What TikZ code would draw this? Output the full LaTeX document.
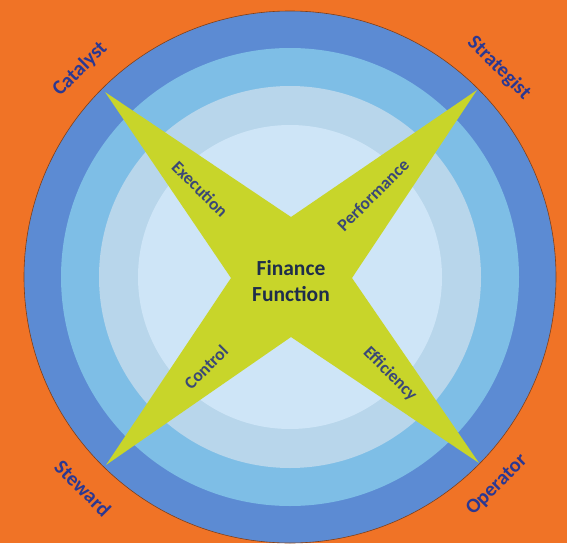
\documentclass[tikz,border=0pt]{standalone}
\usepackage{fontspec}
\setmainfont{Carlito}
\definecolor{bgorange}{RGB}{240,115,38}
\definecolor{ringA}{RGB}{92,139,211}
\definecolor{ringB}{RGB}{126,190,230}
\definecolor{ringC}{RGB}{184,214,235}
\definecolor{ringD}{RGB}{206,229,247}
\definecolor{starcol}{RGB}{200,213,42}
\definecolor{outertext}{RGB}{43,56,146}
\definecolor{startext}{RGB}{58,72,118}
\definecolor{centertext}{RGB}{30,45,75}
\tikzset{
  outerlabel/.style={font=\fontsize{20.5}{24}\selectfont\bfseries, text=outertext, inner sep=0pt},
  starlabel/.style={font=\fontsize{17.5}{20}\selectfont\bfseries, text=startext, inner sep=0pt},
  centerlabel/.style={font=\fontsize{21.5}{26}\selectfont\bfseries, text=centertext, align=center, inner sep=0pt},
}
\begin{document}
\begin{tikzpicture}[x=1pt,y=-1pt]
\useasboundingbox (0,0) rectangle (567,543);
\fill[bgorange] (0,0) rectangle (567,543);
\coordinate (c) at (290,277);
\fill[ringA] (c) circle[radius=266];
\draw[black!45!bgorange, line width=0.6pt] (c) circle[radius=266];
\fill[ringB] (c) circle[radius=229];
\fill[ringC] (c) circle[radius=191];
\fill[ringD] (c) circle[radius=152];
% star
\coordinate (tl) at (105,92);
\coordinate (nt) at (291,217);
\coordinate (tr) at (477,90);
\coordinate (nr) at (352,278);
\coordinate (br) at (479,463);
\coordinate (nb) at (291,337);
\coordinate (bl) at (106,465);
\coordinate (nl) at (231,278);
\fill[starcol] (tl) -- (nt) -- (tr) -- (nr) -- (br) -- (nb) -- (bl) -- (nl) -- cycle;
% center text
\node[centerlabel] (fin) at (291,281) {Finance\\Function};
% star labels
\node[starlabel, rotate=-45] (exe) at (200,189) {Execution};
\node[starlabel, rotate=45] (perf) at (373,195) {Performance};
\node[starlabel, rotate=45] (ctrl) at (206,367) {Control};
\node[starlabel, rotate=-45] (eff) at (390,374) {Efficiency};
% outer labels
\node[outerlabel, rotate=45] (cat) at (80,69) {Catalyst};
\node[outerlabel, rotate=-45] (str) at (499,68) {Strategist};
\node[outerlabel, rotate=-45] (stw) at (83,488) {Steward};
\node[outerlabel, rotate=45] (op) at (497,485) {Operator};
\end{tikzpicture}
\end{document}
